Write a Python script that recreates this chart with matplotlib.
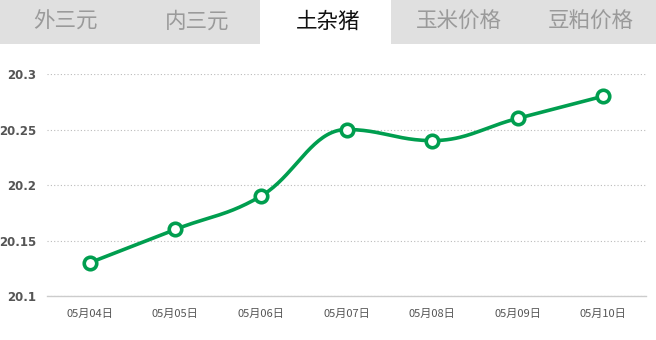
import numpy as np
import matplotlib
matplotlib.use("Agg")
import matplotlib.pyplot as plt
from matplotlib.patches import Rectangle

plt.rcParams['font.family'] = ['Noto Sans CJK SC', 'DejaVu Sans']

tabs = ["外三元", "内三元", "土杂猪", "玉米价格", "豆粕价格"]
active_tab = 2
dates = ["05月04日", "05月05日", "05月06日", "05月07日", "05月08日", "05月09日", "05月10日"]
prices = [20.13, 20.16, 20.19, 20.25, 20.24, 20.26, 20.28]
yticks = [20.1, 20.15, 20.2, 20.25, 20.3]

GREEN = "#009e4f"
W, H = 656, 340

fig = plt.figure(figsize=(W / 100, H / 100), dpi=100)

# tab strip across the top
tab_h = 44 / H
tab_w = 1 / len(tabs)
fig.patches.append(Rectangle((0, 1 - tab_h), 1, tab_h, transform=fig.transFigure,
                             facecolor="#e0e0e0", edgecolor="none", zorder=0))
fig.patches.append(Rectangle((260 / W, 1 - tab_h), 131 / W, tab_h, transform=fig.transFigure,
                             facecolor="white", edgecolor="none", zorder=1))
for i, name in enumerate(tabs):
    fig.text((i + 0.5) * tab_w, 1 - 22 / H, name, ha="center", va="center",
             fontsize=15.5, color="#111111" if i == active_tab else "#9a9a9a")

ax = fig.add_axes([47 / W, 1 - 296 / H, 599 / W, 222 / H])


def spline_path(xs, ys, smoothing=1.5, n=40):
    # spline with control points kept between neighbours (no false extremes)
    xs = np.asarray(xs, float)
    ys = np.asarray(ys, float)
    m = len(xs)
    left = [(xs[i], ys[i]) for i in range(m)]
    right = [(xs[i], ys[i]) for i in range(m)]
    den = smoothing + 1
    for i in range(1, m - 1):
        px, py = xs[i], ys[i]
        lx, ly = xs[i - 1], ys[i - 1]
        nx, ny = xs[i + 1], ys[i + 1]
        lcx, lcy = (smoothing * px + lx) / den, (smoothing * py + ly) / den
        rcx, rcy = (smoothing * px + nx) / den, (smoothing * py + ny) / den
        corr = (rcy - lcy) * (rcx - px) / (rcx - lcx) + py - rcy
        lcy += corr
        rcy += corr
        if lcy > ly and lcy > py:
            lcy = max(ly, py)
            rcy = 2 * py - lcy
        elif lcy < ly and lcy < py:
            lcy = min(ly, py)
            rcy = 2 * py - lcy
        if rcy > ny and rcy > py:
            rcy = max(ny, py)
            lcy = 2 * py - rcy
        elif rcy < ny and rcy < py:
            rcy = min(ny, py)
            lcy = 2 * py - rcy
        left[i] = (lcx, lcy)
        right[i] = (rcx, rcy)
    t = np.linspace(0, 1, n)[1:, None]
    out = [np.array([[xs[0], ys[0]]])]
    for i in range(m - 1):
        a = np.array([xs[i], ys[i]])
        b = np.array(right[i])
        c = np.array(left[i + 1])
        d = np.array([xs[i + 1], ys[i + 1]])
        out.append((1 - t) ** 3 * a + 3 * (1 - t) ** 2 * t * b + 3 * (1 - t) * t ** 2 * c + t ** 3 * d)
    out = np.vstack(out)
    return out[:, 0], out[:, 1]


x = np.arange(len(dates))
cx, cy = spline_path(x, prices)
ax.plot(cx, cy, color=GREEN, lw=2.6, solid_capstyle="round", zorder=3)
ax.plot(x, prices, "o", ms=9, mfc="white", mec=GREEN, mew=2.6, zorder=4)

ax.set_xlim(-0.5, len(dates) - 0.5)
ax.set_ylim(20.1, 20.3)
ax.set_xticks(x)
ax.set_xticklabels(dates, fontsize=8, color="#555555")
ax.set_yticks(yticks)
ax.set_yticklabels([f"{v:g}" for v in yticks], fontsize=8.5, fontweight="bold",
                   color="#555555", family=["DejaVu Sans"])
ax.tick_params(length=0, pad=8)
ax.tick_params(axis="x", pad=9)
ax.grid(axis="y", ls=(0, (1, 2)), color="#bbbbbb", lw=0.8)
ax.set_axisbelow(True)
for side in ["top", "right", "left"]:
    ax.spines[side].set_visible(False)
ax.spines["bottom"].set_color("#cccccc")
ax.spines["bottom"].set_linewidth(1)

fig.savefig("out.png", dpi=100)
